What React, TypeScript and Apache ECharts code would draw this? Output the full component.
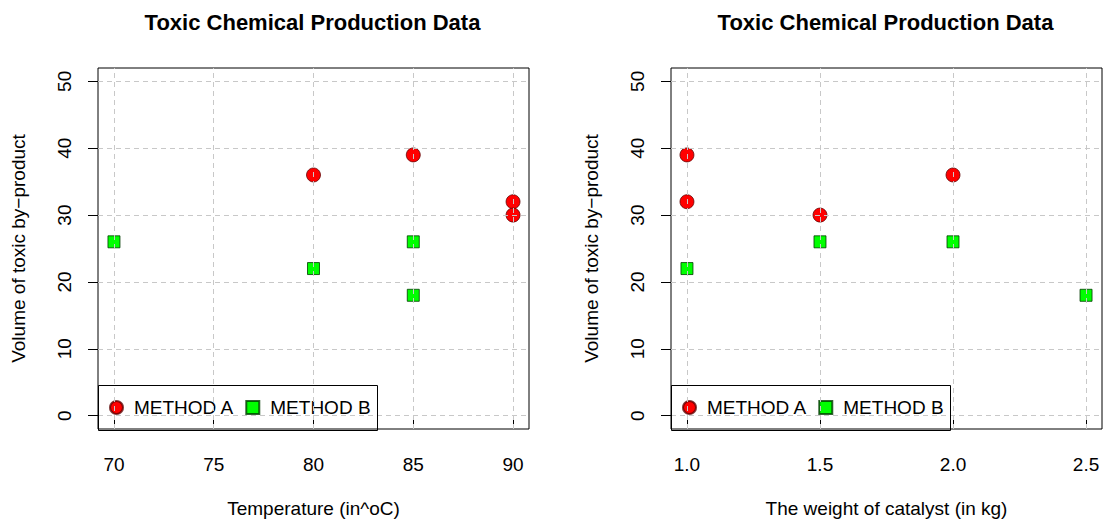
import React, { useEffect, useRef } from "react";
import * as echarts from "echarts";

const chartTitle = "Toxic Chemical Production Data";
const methodNames = ["METHOD A", "METHOD B"];

// Left panel: temperature vs volume
const methodATemperature = [80, 85, 90, 90];
const methodAVolumeT = [36, 39, 32, 30];
const methodBTemperature = [70, 80, 85, 85];
const methodBVolumeT = [26, 22, 26, 18];

// Right panel: catalyst weight vs volume
const methodACatalyst = [1.0, 1.0, 1.5, 2.0];
const methodAVolumeC = [39, 32, 30, 36];
const methodBCatalyst = [1.0, 1.5, 2.0, 2.5];
const methodBVolumeC = [22, 26, 26, 18];

const temperatureTicks = [70, 75, 80, 85, 90];
const catalystTicks = [1.0, 1.5, 2.0, 2.5];
const volumeTicks = [0, 10, 20, 30, 40, 50];

const xNameLeft = "Temperature (in^oC)";
const xNameRight = "The weight of catalyst (in kg)";
const yName = "Volume of toxic by\u2212product";

const FONT = "'Liberation Sans', Arial, Helvetica, sans-serif";
const FS = 19;

function pad(lo: number, hi: number): [number, number] {
  const d = (hi - lo) * 0.04;
  return [lo - d, hi + d];
}

export default function App() {
  const ref = useRef<HTMLDivElement>(null);

  useEffect(() => {
    if (!ref.current) return;
    const chart = echarts.init(ref.current, undefined, { renderer: "svg" });

    const [txMin, txMax] = pad(70, 90);
    const [cxMin, cxMax] = pad(1.0, 2.5);
    const [yMin, yMax] = pad(0, 50);

    const zip = (xs: number[], ys: number[]) => xs.map((x, i) => [x, ys[i]]);

    const markerA = {
      symbol: "circle",
      symbolSize: 14,
      itemStyle: { color: "#ff0000", borderColor: "rgba(90,0,0,0.75)", borderWidth: 1, opacity: 1 },
    };
    const markerB = {
      symbol: "rect",
      symbolSize: 12,
      itemStyle: { color: "#00ff00", borderColor: "rgba(0,60,0,0.8)", borderWidth: 1, opacity: 1 },
    };

    const gridLines = (xt: number[], idx: number) => ({
      type: "scatter",
      xAxisIndex: idx,
      yAxisIndex: idx,
      data: [],
      z: 5,
      silent: true,
      markLine: {
        silent: true,
        symbol: ["none", "none"],
        label: { show: false },
        lineStyle: { color: "#c8c8c8", type: [5, 4], width: 1 },
        data: [
          ...xt.map((v) => ({ xAxis: v })),
          ...volumeTicks.map((v) => ({ yAxis: v })),
        ],
      },
    });

    const xAxisBase = (min: number, max: number, ticks: number[], name: string, idx: number, fmt?: (v: number) => string) => ({
      type: "value",
      gridIndex: idx,
      min,
      max,
      name,
      nameLocation: "middle",
      nameGap: 70,
      nameTextStyle: { fontSize: FS, color: "#000", fontFamily: FONT },
      axisLine: { show: false },
      axisTick: { show: true, inside: false, length: 10, customValues: ticks, lineStyle: { color: "#000", width: 1 } },
      axisLabel: {
        customValues: ticks,
        fontSize: FS,
        color: "#000",
        fontFamily: FONT,
        margin: 26,
        formatter: fmt ? (v: number) => fmt(v) : undefined,
      },
      splitLine: { show: false },
    });

    const yAxisBase = (idx: number) => ({
      type: "value",
      gridIndex: idx,
      min: yMin,
      max: yMax,
      name: yName,
      nameLocation: "middle",
      nameGap: 70,
      nameTextStyle: { fontSize: FS, color: "#000", fontFamily: FONT },
      axisLine: { show: false },
      axisTick: { show: true, inside: false, length: 10, customValues: volumeTicks, lineStyle: { color: "#000", width: 1 } },
      axisLabel: {
        customValues: volumeTicks,
        rotate: 90,
        fontSize: FS,
        color: "#000",
        fontFamily: FONT,
        margin: 24,
      },
      splitLine: { show: false },
    });

    const legendBase = (left: number) => ({
      left,
      top: 398,
      padding: 0,
      orient: "horizontal",
      itemWidth: 13,
      itemHeight: 13,
      itemGap: 11,
      selectedMode: false,
      textStyle: { fontSize: FS, color: "#000", fontFamily: FONT, padding: [0, 0, 0, 6] },
      data: [
        { name: methodNames[0], icon: "circle" },
        { name: methodNames[1], icon: "rect" },
      ],
    });

    const titleBase = (center: number) => ({
      text: chartTitle,
      left: center,
      top: 11,
      padding: 0,
      textAlign: "center",
      textStyle: { fontSize: 22, fontWeight: "bold", color: "#000", fontFamily: FONT },
    });

    chart.setOption({
      animation: false,
      backgroundColor: "#ffffff",
      title: [titleBase(312.5), titleBase(885.5)],
      grid: [
        { left: 98, top: 68, width: 431, height: 362, show: true, borderColor: "#000", borderWidth: 1, backgroundColor: "transparent" },
        { left: 671, top: 68, width: 431, height: 362, show: true, borderColor: "#000", borderWidth: 1, backgroundColor: "transparent" },
      ],
      xAxis: [
        xAxisBase(txMin, txMax, temperatureTicks, xNameLeft, 0),
        xAxisBase(cxMin, cxMax, catalystTicks, xNameRight, 1, (v) => v.toFixed(1)),
      ],
      yAxis: [yAxisBase(0), yAxisBase(1)],
      legend: [legendBase(109), legendBase(682)],
      series: [
        { name: methodNames[0], type: "scatter", xAxisIndex: 0, yAxisIndex: 0, z: 2, data: zip(methodATemperature, methodAVolumeT), ...markerA },
        { name: methodNames[1], type: "scatter", xAxisIndex: 0, yAxisIndex: 0, z: 2, data: zip(methodBTemperature, methodBVolumeT), ...markerB },
        { name: methodNames[0], type: "scatter", xAxisIndex: 1, yAxisIndex: 1, z: 2, data: zip(methodACatalyst, methodAVolumeC), ...markerA },
        { name: methodNames[1], type: "scatter", xAxisIndex: 1, yAxisIndex: 1, z: 2, data: zip(methodBCatalyst, methodBVolumeC), ...markerB },
        gridLines(temperatureTicks, 0),
        gridLines(catalystTicks, 1),
      ],
      graphic: [
        { type: "rect", z: 100, silent: true, shape: { x: 98.5, y: 385.5, width: 279, height: 45 }, style: { fill: "none", stroke: "#000", lineWidth: 1 } },
        { type: "rect", z: 100, silent: true, shape: { x: 671.5, y: 385.5, width: 279, height: 45 }, style: { fill: "none", stroke: "#000", lineWidth: 1 } },
      ],
    });

    return () => chart.dispose();
  }, []);

  return (
    <div
      ref={ref}
      style={{ position: "fixed", left: 0, top: 0, width: 1104, height: 523 }}
    />
  );
}
